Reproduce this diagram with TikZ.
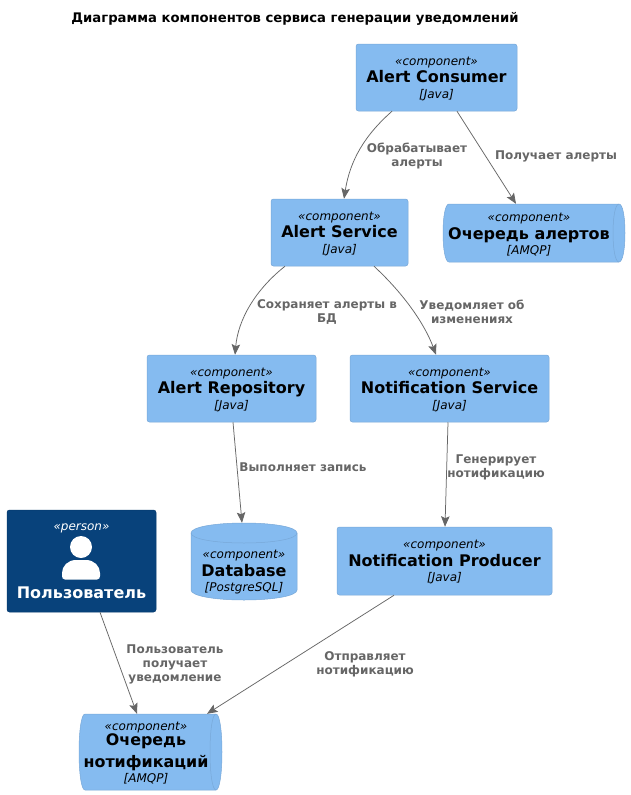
\documentclass[tikz,border=0pt]{standalone}
\usepackage{fontspec}
\setmainfont{DejaVu Sans}
\usetikzlibrary{arrows.meta}
\definecolor{compfill}{HTML}{85BBF0}
\definecolor{compline}{HTML}{78A8D8}
\definecolor{personfill}{HTML}{08427B}
\definecolor{personline}{HTML}{073B6F}
\definecolor{linkgrey}{HTML}{666666}
\newcommand{\compbody}[2][Java]{\rule{0pt}{11pt}{\itshape «component»}\\[1.5pt]{\fontsize{16}{16}\selectfont\bfseries #2}\\[-.5pt]{\itshape [#1]}}
\tikzset{
  x=1pt,y=-1pt,
  box/.style={rectangle,draw=compline,fill=compfill,rounded corners=2.5pt,line width=.5pt,inner sep=0pt,align=center,text=black,font=\fontsize{12}{16}\selectfont},
  plain/.style={rectangle,inner sep=0pt,align=center,text=black,font=\fontsize{12}{16}\selectfont},
  shapefill/.style={draw=compline,fill=compfill,line width=.5pt},
  inner/.style={draw=compline,line width=.5pt},
  link/.style={draw=linkgrey,line width=.75pt,-{Stealth[length=10.5pt,width=8.5pt,inset=2pt]}},
  lab/.style={inner sep=0pt,align=center,text=linkgrey,font=\fontsize{12}{14}\selectfont\bfseries},
}
\begin{document}
\begin{tikzpicture}
\useasboundingbox (0,0) rectangle (630,795);
\fill[white] (0,0) rectangle (630,795);
\node[inner sep=0pt,font=\fontsize{13.2}{16}\selectfont\bfseries] (title) at (295,18.5) {Диаграмма компонентов сервиса генерации уведомлений};

\node[box,minimum width=161pt,minimum height=67pt] (consumer) at (436.5,77.5) {\compbody{Alert Consumer}};
\node[box,minimum width=137pt,minimum height=67pt] (service) at (339.5,232.5) {\compbody{Alert Service}};
\node[box,minimum width=169pt,minimum height=67pt] (repo) at (231.5,388.5) {\compbody{Alert Repository}};
\node[box,minimum width=199pt,minimum height=67pt] (nservice) at (449.5,388.5) {\compbody{Notification Service}};
\node[box,minimum width=215pt,minimum height=68pt] (producer) at (444.5,561) {\compbody{Notification Producer}};

% queue of alerts
\path[shapefill] (449,204) -- (619,204) .. controls (623,204) and (625,218) .. (625,233) .. controls (625,248) and (623,262) .. (619,262) -- (449,262) .. controls (445,262) and (443,248) .. (443,233) .. controls (443,218) and (445,204) .. (449,204) -- cycle;
\draw[inner] (619,204) .. controls (615,204) and (613,218) .. (613,233) .. controls (613,248) and (615,262) .. (619,262);
\node[plain,minimum width=182pt,minimum height=58pt] (aqueue) at (531,233) {};
\node[plain] (aqtext) at (529,233.5) {\compbody[AMQP]{Очередь алертов}};

% database
\path[shapefill] (191,533) .. controls (191,527) and (215,523) .. (244,523) .. controls (273,523) and (297,527) .. (297,533) -- (297,590) .. controls (297,596) and (273,600) .. (244,600) .. controls (215,600) and (191,596) .. (191,590) -- cycle;
\draw[inner] (191,533) .. controls (191,539) and (215,543) .. (244,543) .. controls (273,543) and (297,539) .. (297,533);
\node[plain,minimum width=106pt,minimum height=77pt] (db) at (244,561.5) {};
\node[plain] (dbtext) at (244,571) {\compbody[PostgreSQL]{Database}};

% person
\node[rectangle,draw=personline,fill=personfill,rounded corners=2.5pt,line width=.5pt,minimum width=149pt,minimum height=102pt,inner sep=0pt] (user) at (81.5,561) {};
\node[inner sep=0pt,text=white,font=\fontsize{12}{16}\selectfont\itshape] (ustereo) at (81.5,528.5) {«person»};
\node[inner sep=0pt,text=white,font=\fontsize{16}{16}\selectfont\bfseries] (uname) at (81.5,593) {Пользователь};
\fill[white] (81,547) circle (11pt);
\fill[white] (65,579.5) .. controls (63,579.5) and (62,578) .. (62,576) -- (62,573) .. controls (62,566) and (68,560) .. (76,560) -- (86,560) .. controls (94,560) and (100,566) .. (100,573) -- (100,576) .. controls (100,578) and (99,579.5) .. (97,579.5) -- cycle;

% queue of notifications
\path[shapefill] (85,714) -- (216,714) .. controls (220,714) and (222,733) .. (222,752) .. controls (222,771) and (220,790) .. (216,790) -- (85,790) .. controls (81,790) and (79,771) .. (79,752) .. controls (79,733) and (81,714) .. (85,714) -- cycle;
\draw[inner] (216,714) .. controls (212,714) and (210,733) .. (210,752) .. controls (210,771) and (212,790) .. (216,790);
\node[plain,minimum width=143pt,minimum height=76pt] (nqueue) at (150.5,752) {};
\node[plain] (nqtext) at (146,753.5) {{\itshape «component»}\\[-1.5pt]{\fontsize{15.9}{16}\selectfont\bfseries Очередь}\\[6pt]{\fontsize{15.9}{16}\selectfont\bfseries нотификаций}\\[-.5pt]{\itshape [AMQP]}};

% connectors
\draw[link] ([xshift=-44.5pt]consumer.south) .. controls (365,135) and (350,160) .. ([xshift=4.5pt]service.north);
\draw[link] ([xshift=20.5pt]consumer.south) -- ([xshift=-15pt]aqueue.north);
\draw[link] ([xshift=-54.5pt]service.south) .. controls (255,290) and (238,320) .. ([xshift=3.5pt]repo.north);
\draw[link] ([xshift=34.5pt]service.south) .. controls (405,295) and (425,325) .. ([xshift=-13.5pt]nservice.north);
\draw[link] ([xshift=1.5pt]repo.south) -- ([xshift=-2pt]db.north);
\draw[link] ([xshift=-1.5pt]nservice.south) -- ([xshift=.5pt]producer.north);
\draw[link] ([xshift=-50.5pt]producer.south) -- ([xshift=56.5pt]nqueue.north);
\draw[link] ([xshift=18.5pt]user.south) -- ([xshift=-13.5pt]nqueue.north);

% labels
\node[lab] (l1) at (417,155.5) {Обрабатывает\\алерты};
\node[lab] (l2) at (556,156) {Получает алерты};
\node[lab] (l3) at (327,312) {Сохраняет алерты в\\БД};
\node[lab] (l4) at (472,312) {Уведомляет об\\изменениях};
\node[lab] (l5) at (303,467) {Выполняет запись};
\node[lab] (l6) at (496,467) {Генерирует\\нотификацию};
\node[lab] (l7) at (365,664) {Отправляет\\нотификацию};
\node[lab] (l8) at (175,664) {Пользователь\\получает\\уведомление};
\end{tikzpicture}
\end{document}
